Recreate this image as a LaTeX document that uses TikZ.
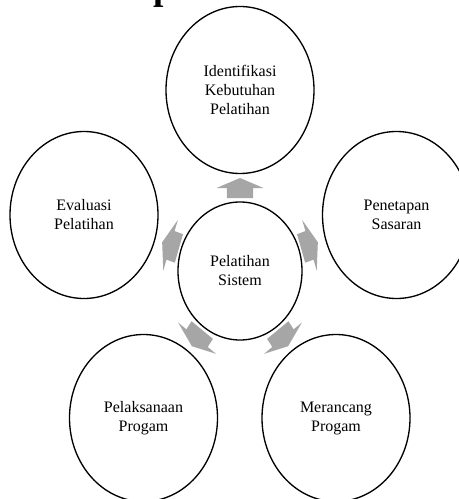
\documentclass[tikz,border=0pt]{standalone}
\usepackage{fontspec}
\setmainfont{Liberation Serif}
\usetikzlibrary{shapes.geometric}

\definecolor{arrowgray}{HTML}{A6A6A6}

\tikzset{
  outer/.style={ellipse, draw=black, line width=1pt, fill=white,
    minimum width=111pt, minimum height=125.25pt, inner sep=0pt,
    align=center, font=\fontsize{12}{14.25}\selectfont},
  inner/.style={outer, minimum width=93pt, minimum height=103.5pt},
  blockarrow/.style={fill=arrowgray}
}

% block arrow pointing outward from the hub, at angle #1 (counter-clockwise)
\newcommand{\hubarrow}[1]{%
  \fill[blockarrow, rotate=#1]
    (73,-15) -- (83,-15) -- (83,-26.7) -- (93,0) -- (83,26.7)
    -- (83,15) -- (73,15) -- cycle;}

\begin{document}
\begin{tikzpicture}[x=0.75pt, y=-0.75pt]
  \useasboundingbox (0,0) rectangle (459,499);
  \clip (0,0) rectangle (459,499);

  % heading fragment above the diagram
  \node[anchor=base, inner sep=0pt, font=\fontsize{28}{34}\selectfont\bfseries]
    (heading) at (164,0) {p};

  % hub
  \node[inner] (hub) at (240,271) {Pelatihan\\Sistem};

  % arrows from the hub to each stage
  \begin{scope}[shift={(hub.center)}, xscale=0.88]
    \hubarrow{90}
    \hubarrow{18}
    \hubarrow{-54}
    \hubarrow{-126}
    \hubarrow{162}
  \end{scope}

  % stages
  \node[outer] (need)   at (240,90)    {Identifikasi\\Kebutuhan\\Pelatihan};
  \node[outer] (target) at (396.5,215) {Penetapan\\Sasaran};
  \node[outer] (design) at (336,418)   {Merancang\\Progam};
  \node[outer] (run)    at (143.5,418) {Pelaksanaan\\Progam};
  \node[outer] (eval)   at (84,215)    {Evaluasi\\Pelatihan};
\end{tikzpicture}
\end{document}
